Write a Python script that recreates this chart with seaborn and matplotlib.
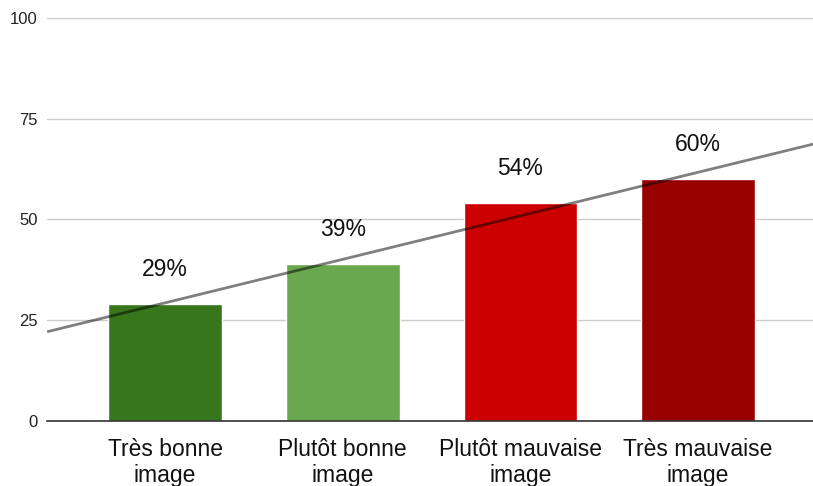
import matplotlib
matplotlib.use('Agg')
import matplotlib.pyplot as plt
import numpy as np
import pandas as pd
import seaborn as sns

categories = ['Très bonne\nimage', 'Plutôt bonne\nimage', 'Plutôt mauvaise\nimage', 'Très mauvaise\nimage']
values = [29, 39, 54, 60]
colors = ['#38761d', '#6aa84f', '#cc0000', '#990000']
yticks = [0, 25, 50, 75, 100]

data = pd.DataFrame({'cat': categories, 'val': values})

sns.set_theme(style='white')
plt.rcParams['font.family'] = ['Liberation Sans', 'DejaVu Sans']

fig = plt.figure(figsize=(8.13, 4.86), dpi=100)
ax = fig.add_axes([0.058, 0.134, 0.942, 0.829])

sns.barplot(data=data, x='cat', y='val', hue='cat', palette=colors, legend=False,
            width=0.64, saturation=1, ax=ax, zorder=2)

ax.set_xlim(-0.664, 3.647)
ax.set_ylim(0, 100)
ax.set_yticks(yticks)
ax.set_yticklabels([str(t) for t in yticks], fontsize=12, color='#222222')
ax.grid(axis='y', color='#cccccc', linewidth=1, zorder=0)
ax.set_axisbelow(True)
ax.tick_params(axis='x', labelsize=16.5, length=0, pad=12, colors='#111111')
ax.tick_params(axis='y', length=0, pad=7)
ax.set_xlabel(None)
ax.set_ylabel(None)
sns.despine(left=True, top=True, right=True)
ax.spines['bottom'].set_color('#333333')
ax.spines['bottom'].set_linewidth(1.2)

# value labels
for i, v in enumerate(values):
    ax.text(i, v + 5.7, f'{v}%', ha='center', va='bottom', fontsize=16.5, color='#111111')

# linear trend line across the full plot width
xs = np.arange(len(values))
slope, intercept = np.polyfit(xs, values, 1)
xl = np.array(ax.get_xlim())
ax.plot(xl, slope * xl + intercept, color='black', alpha=0.5, linewidth=2, zorder=3,
        solid_capstyle='butt')

fig.savefig('out.png', dpi=100)
